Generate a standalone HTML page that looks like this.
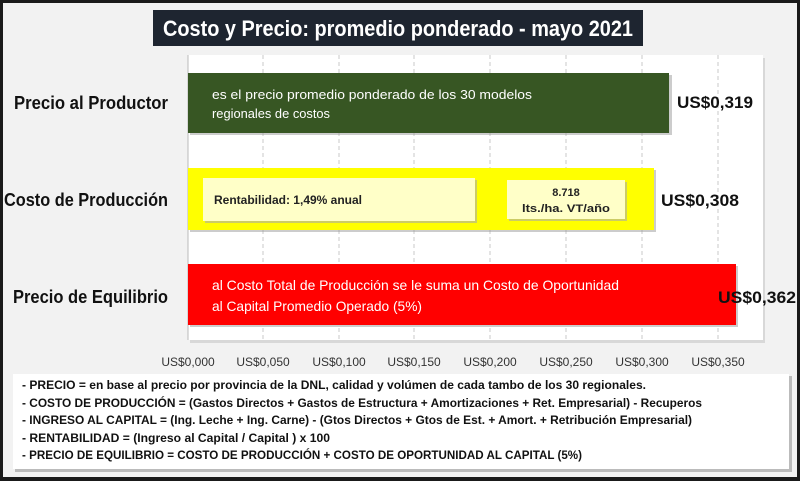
<!DOCTYPE html>
<html><head><meta charset="utf-8"><style>
html,body{margin:0;padding:0;background:#fff}
svg{display:block}
text{font-family:"Liberation Sans Narrow","Liberation Sans",sans-serif}
</style></head><body>
<svg width="800" height="481" viewBox="0 0 800 481" xmlns="http://www.w3.org/2000/svg">
<rect x="0" y="0" width="800" height="481" fill="#1a1a1a"/>
<rect x="3" y="3" width="794" height="474" fill="#f2f2f2"/>
<!-- title -->
<rect x="153" y="10" width="490" height="36" fill="#1e2530"/>
<text x="398" y="36" font-size="22" font-weight="bold" fill="#fff" text-anchor="middle" textLength="470" lengthAdjust="spacingAndGlyphs">Costo  y Precio: promedio ponderado - mayo 2021</text>
<!-- plot area -->
<rect x="190" y="58" width="575" height="285" fill="#d8d8d8"/>
<rect x="188" y="55" width="575" height="285" fill="#fff"/>
<g stroke="#c8c8c8" stroke-dasharray="4,3" stroke-width="1">
<line x1="263" y1="55" x2="263" y2="340"/><line x1="339" y1="55" x2="339" y2="340"/>
<line x1="414" y1="55" x2="414" y2="340"/><line x1="490" y1="55" x2="490" y2="340"/>
<line x1="566" y1="55" x2="566" y2="340"/><line x1="642" y1="55" x2="642" y2="340"/>
<line x1="718" y1="55" x2="718" y2="340"/>
</g>
<line x1="188" y1="55" x2="188" y2="340" stroke="#bbb"/>
<!-- bars -->
<rect x="190" y="75" width="482" height="60" fill="#999" opacity="0.5"/>
<rect x="188" y="73" width="481" height="60" fill="#375623"/>
<text x="212" y="99" font-size="13" fill="#fff" textLength="320" lengthAdjust="spacingAndGlyphs">es el precio promedio ponderado de los 30 modelos</text>
<text x="212" y="118" font-size="13" fill="#fff" textLength="118" lengthAdjust="spacingAndGlyphs">regionales de costos</text>
<rect x="190" y="170" width="466" height="62" fill="#999" opacity="0.5"/>
<rect x="188" y="168" width="466" height="62" fill="#ffff00"/>
<rect x="205" y="180" width="272" height="43" fill="#aaa" opacity="0.6"/>
<rect x="203" y="178" width="272" height="43" fill="#ffffc8"/>
<text x="214" y="204" font-size="12" font-weight="bold" fill="#222" textLength="148" lengthAdjust="spacingAndGlyphs">Rentabilidad: 1,49% anual</text>
<rect x="509" y="182" width="118" height="39" fill="#aaa" opacity="0.6"/>
<rect x="507" y="180" width="118" height="39" fill="#ffffc8"/>
<text x="566" y="196" font-size="11" font-weight="bold" fill="#222" text-anchor="middle">8.718</text>
<text x="566" y="212" font-size="11" font-weight="bold" fill="#222" text-anchor="middle" textLength="88" lengthAdjust="spacingAndGlyphs">lts./ha. VT/año</text>
<rect x="190" y="266" width="548" height="61" fill="#999" opacity="0.5"/>
<rect x="188" y="264" width="548" height="61" fill="#ff0000"/>
<text x="212" y="290" font-size="14" fill="#fff" textLength="407" lengthAdjust="spacingAndGlyphs">al Costo Total de Producción se le suma un Costo de Oportunidad</text>
<text x="212" y="311" font-size="14" fill="#fff" textLength="210" lengthAdjust="spacingAndGlyphs">al Capital Promedio Operado (5%)</text>
<!-- category labels -->
<g font-size="18" font-weight="bold" fill="#111" text-anchor="end">
<text x="168" y="109" textLength="154" lengthAdjust="spacingAndGlyphs">Precio al Productor</text>
<text x="168" y="206" textLength="164" lengthAdjust="spacingAndGlyphs">Costo de Producción</text>
<text x="168" y="303" textLength="155" lengthAdjust="spacingAndGlyphs">Precio de Equilibrio</text>
</g>
<!-- values -->
<g font-size="17" font-weight="bold" fill="#111">
<text x="677" y="108" textLength="76" lengthAdjust="spacingAndGlyphs">US$0,319</text>
<text x="661" y="206" textLength="78" lengthAdjust="spacingAndGlyphs">US$0,308</text>
<text x="718" y="303" textLength="78" lengthAdjust="spacingAndGlyphs">US$0,362</text>
</g>
<!-- ticks -->
<g font-size="12" fill="#333" text-anchor="middle">
<text x="188" y="366">US$0,000</text><text x="263" y="366">US$0,050</text>
<text x="339" y="366">US$0,100</text><text x="414" y="366">US$0,150</text>
<text x="490" y="366">US$0,200</text><text x="566" y="366">US$0,250</text>
<text x="642" y="366">US$0,300</text><text x="718" y="366">US$0,350</text>
</g>
<!-- notes -->
<rect x="15" y="376" width="777" height="96" fill="#bbb"/>
<rect x="13" y="374" width="776" height="95" fill="#fff"/>
<g font-size="12" font-weight="bold" fill="#111">
<text x="22" y="389" textLength="624" lengthAdjust="spacingAndGlyphs">- PRECIO = en base al precio por provincia de la DNL, calidad y volúmen de cada tambo de los 30 regionales.</text>
<text x="22" y="407" textLength="680" lengthAdjust="spacingAndGlyphs">- COSTO DE PRODUCCIÓN = (Gastos Directos + Gastos de Estructura + Amortizaciones + Ret. Empresarial) - Recuperos</text>
<text x="22" y="424" textLength="670" lengthAdjust="spacingAndGlyphs">- INGRESO AL CAPITAL = (Ing. Leche + Ing. Carne) - (Gtos Directos + Gtos de Est. + Amort. + Retribución Empresarial)</text>
<text x="22" y="442" textLength="308" lengthAdjust="spacingAndGlyphs">- RENTABILIDAD = (Ingreso al Capital / Capital ) x 100</text>
<text x="22" y="459" textLength="560" lengthAdjust="spacingAndGlyphs">- PRECIO DE EQUILIBRIO = COSTO DE PRODUCCIÓN + COSTO DE OPORTUNIDAD AL CAPITAL (5%)</text>
</g>
</svg>
</body></html>
